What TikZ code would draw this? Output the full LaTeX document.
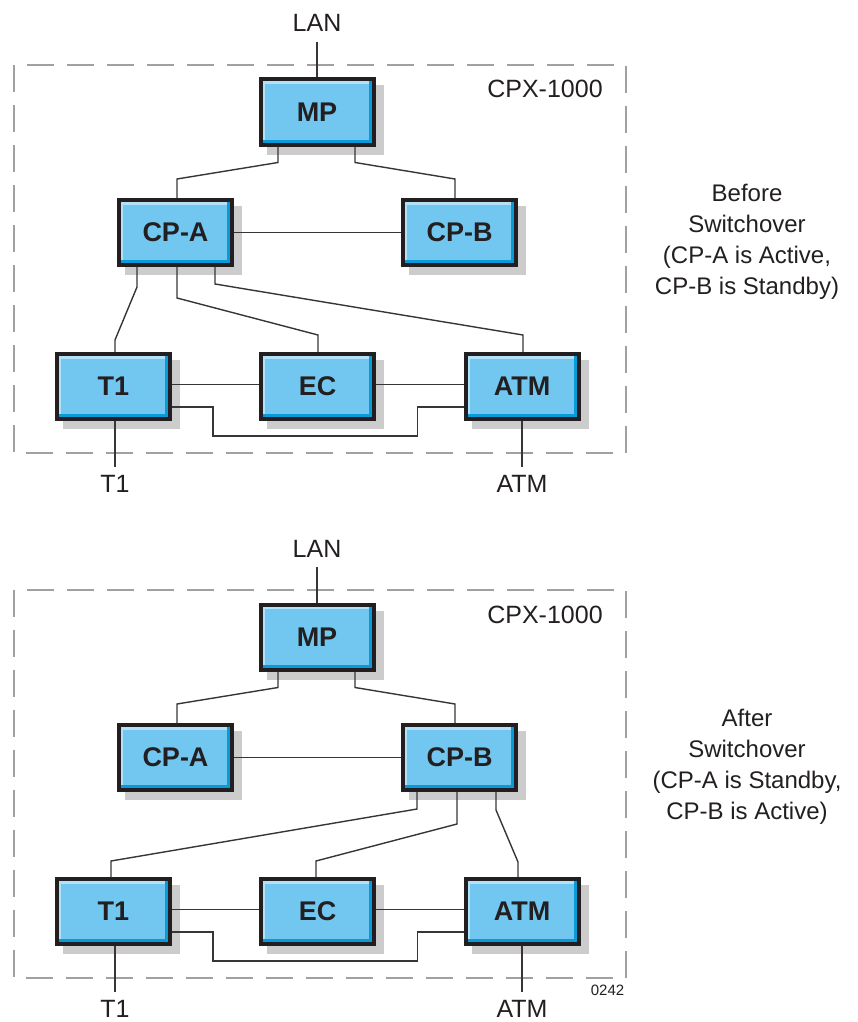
\documentclass[tikz,border=0pt]{standalone}
\usepackage{fontspec}
\setmainfont{Liberation Sans}
\usetikzlibrary{calc}
\definecolor{unitblue}{HTML}{72C7F0}
\definecolor{unitdark}{HTML}{0A9AD9}
\definecolor{unitlight}{HTML}{B2E2F8}
\definecolor{unitshadow}{HTML}{CCCCCC}
\definecolor{ink}{HTML}{231F20}
\definecolor{framegrey}{HTML}{A0A0A0}
\tikzset{>=stealth}
\tikzset{
  unitbox/.style={draw=ink, line width=4pt, fill=unitblue, minimum width=113pt,
    minimum height=65pt, inner sep=0pt, text=ink, font=\bfseries\fontsize{27}{27}\selectfont,
    preaction={fill=unitshadow, draw=unitshadow, transform canvas={xshift=8pt,yshift=-8pt}},
    path picture={
      \fill[unitdark] (path picture bounding box.south west) rectangle ([yshift=5pt]path picture bounding box.south east);
      \fill[unitdark] ([xshift=-5pt]path picture bounding box.south east) rectangle (path picture bounding box.north east);
      \fill[unitlight] ([yshift=-4.5pt]path picture bounding box.north west) rectangle ([xshift=-5pt]path picture bounding box.north east);
      \fill[unitlight] ([yshift=5pt]path picture bounding box.south west) rectangle ([xshift=4pt,yshift=-4.5pt]path picture bounding box.north west);
    }},
  wire/.style={draw=ink!90, line width=1.4pt},
  chassis/.style={draw=framegrey, line width=2pt, dash pattern=on 27pt off 13pt},
  txt/.style={text=ink, inner sep=0pt, font=\fontsize{25}{30}\selectfont},
}

\begin{document}
\begin{tikzpicture}[x=1pt,y=-1pt]
\useasboundingbox (0,0) rectangle (857,1022);

\foreach \k/\dy in {1/0,2/525}{
  \draw[chassis] (14,{65+\dy}) rectangle (626,{453+\dy});
  \node[txt, anchor=base] (lan\k) at (317,{32+\dy}) {LAN};
  \node[txt, anchor=base] (cpx\k) at (545,{98+\dy}) {CPX-1000};
  \node[txt, anchor=base] (tout\k) at (115,{492+\dy}) {T1};
  \node[txt, anchor=base] (atmout\k) at (522,{492+\dy}) {ATM};
  % units
  \node[unitbox] (mp\k) at (317,{112+\dy}) {MP};
  \node[unitbox] (cpa\k) at (175.5,{232.5+\dy}) {CP-A};
  \node[unitbox] (cpb\k) at (459.5,{232.5+\dy}) {CP-B};
  \node[unitbox] (t\k) at (113.5,{386.5+\dy}) {T1};
  \node[unitbox] (ec\k) at (317.5,{386.5+\dy}) {EC};
  \node[unitbox] (atm\k) at (522,{386.5+\dy}) {ATM};
  % links
  \draw[wire] ([yshift=-10pt]lan\k.south) -- (mp\k.north);
  \draw[wire] ([xshift=-39pt]mp\k.south) -- ++(0,16) -- ($(cpa\k.north)+(1.5,-19)$) -- ([xshift=1.5pt]cpa\k.north);
  \draw[wire] ([xshift=38pt]mp\k.south) -- ++(0,16) -- ($(cpb\k.north)+(-4.5,-19)$) -- ([xshift=-4.5pt]cpb\k.north);
  \draw[wire] (cpa\k.east) -- (cpb\k.west);
  \draw[wire] ([yshift=2pt]t\k.east) -- ([yshift=2pt]ec\k.west);
  \draw[wire] ([yshift=2pt]ec\k.east) -- ([yshift=2pt]atm\k.west);
  \draw[wire] ([yshift=-20.5pt]t\k.east) -- ++(41,0) -- ++(0,29) -| ([xshift=-46pt,yshift=-20.5pt]atm\k.west) -- ([yshift=-20.5pt]atm\k.west);
  \draw[wire] ([xshift=1.5pt]t\k.south) -- ([yshift=8pt]tout\k.north);
  \draw[wire] (atm\k.south) -- ([yshift=8pt]atmout\k.north);
}

% before switchover: CP-A active
\draw[wire] ([xshift=-38.5pt]cpa1.south) -- ++(0,20) -- ($(t1.north)+(1.5,-12)$) -- ([xshift=1.5pt]t1.north);
\draw[wire] ([xshift=1.5pt]cpa1.south) -- ++(0,31) -- ($(ec1.north)+(0.5,-17)$) -- ([xshift=0.5pt]ec1.north);
\draw[wire] ([xshift=39.5pt]cpa1.south) -- ++(0,17) -- ($(atm1.north)+(1,-17)$) -- ([xshift=1pt]atm1.north);

% after switchover: CP-B active
\draw[wire] ([xshift=-42.5pt]cpb2.south) -- ++(0,17) -- ($(t2.north)+(-2.5,-16)$) -- ([xshift=-2.5pt]t2.north);
\draw[wire] ([xshift=-2.5pt]cpb2.south) -- ++(0,32) -- ($(ec2.north)+(-1.5,-16)$) -- ([xshift=-1.5pt]ec2.north);
\draw[wire] ([xshift=36.5pt]cpb2.south) -- ++(0,18) -- ($(atm2.north)+(-4,-15)$) -- ([xshift=-4pt]atm2.north);

\node[txt, align=center, font=\fontsize{24}{31}\selectfont] (before) at (747,242)
  {Before\\Switchover\\(CP-A is Active,\\CP-B is Standby)};
\node[txt, align=center, font=\fontsize{24}{31}\selectfont] (after) at (747,767)
  {After\\Switchover\\(CP-A is Standby,\\CP-B is Active)};
\node[txt, font=\fontsize{15}{18}\selectfont] (figno) at (607.5,990) {0242};
\end{tikzpicture}
\end{document}
